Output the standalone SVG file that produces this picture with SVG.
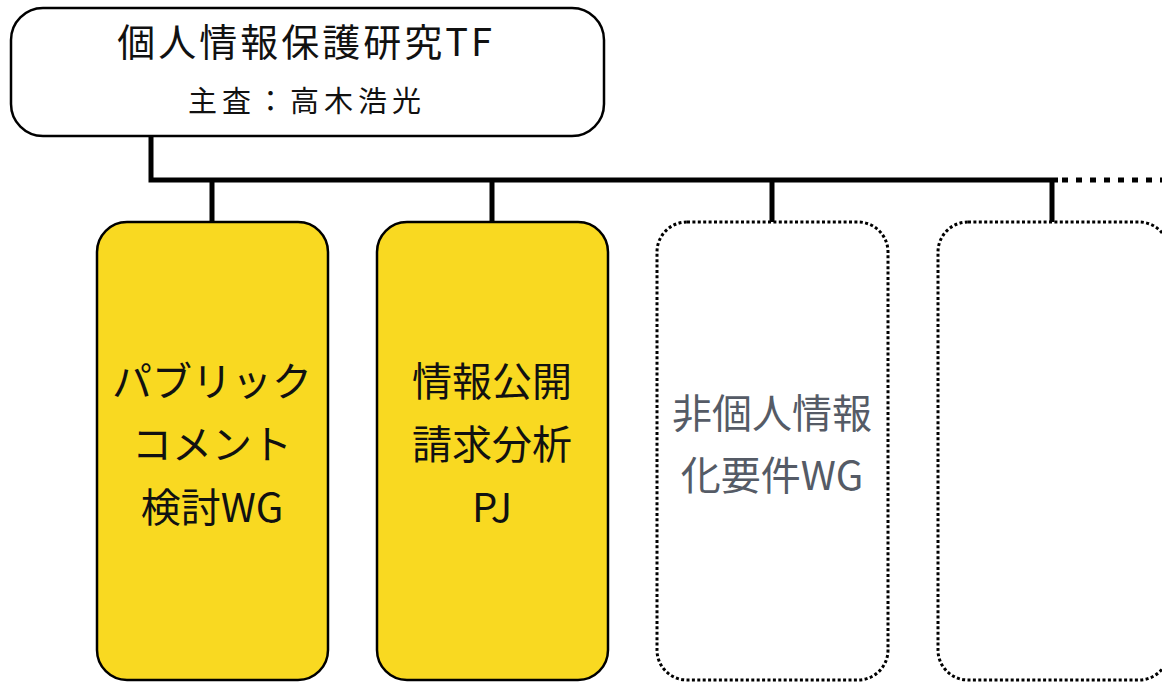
<svg xmlns="http://www.w3.org/2000/svg" width="1162" height="682" viewBox="0 0 1162 682">
<style>
.t{font-family:"Noto Sans CJK JP","Noto Sans",sans-serif;text-anchor:middle;fill:#111}
.y{fill:#F9D921;stroke:#000;stroke-width:2.5}
.d{fill:#fff;stroke:#000;stroke-width:3;stroke-dasharray:3 2.4}
.c{fill:none;stroke:#000;stroke-width:5}
.g{fill:#555b66}
</style>
<rect width="1162" height="682" fill="#fff"/>
<g id="connectors">
<path class="c" d="M151 136 V180 H1058 M212 180 V222 M492 180 V222 M772 180 V222 M1052 180 V222"/>
<path class="c" d="M1062 180 H1162" stroke-dasharray="6 8"/>
</g>
<g id="tf">
<rect x="11" y="8" width="593" height="128" rx="32" fill="#fff" stroke="#000" stroke-width="2.5"/>
<text class="t" x="306" y="56" font-size="38" letter-spacing="3">個人情報保護研究TF</text>
<text class="t" x="307" y="112" font-size="29" letter-spacing="5">主査：高木浩光</text>
</g>
<g id="wg1">
<rect class="y" x="97" y="222" width="231" height="458" rx="30"/>
<text class="t" x="212" y="396" font-size="40">パブリック</text>
<text class="t" x="212" y="459" font-size="40">コメント</text>
<text class="t" x="212" y="522" font-size="40">検討WG</text>
</g>
<g id="pj">
<rect class="y" x="377" y="222" width="231" height="458" rx="30"/>
<text class="t" x="492" y="396" font-size="40">情報公開</text>
<text class="t" x="492" y="459" font-size="40">請求分析</text>
<text class="t" x="492" y="522" font-size="40">PJ</text>
</g>
<g id="wg3">
<rect class="d" x="657" y="222" width="231" height="458" rx="30"/>
<text class="t g" x="772" y="428" font-size="40">非個人情報</text>
<text class="t g" x="772" y="490" font-size="40">化要件WG</text>
</g>
<g id="wg4">
<rect class="d" x="938" y="222" width="231" height="458" rx="30"/>
</g>
</svg>
